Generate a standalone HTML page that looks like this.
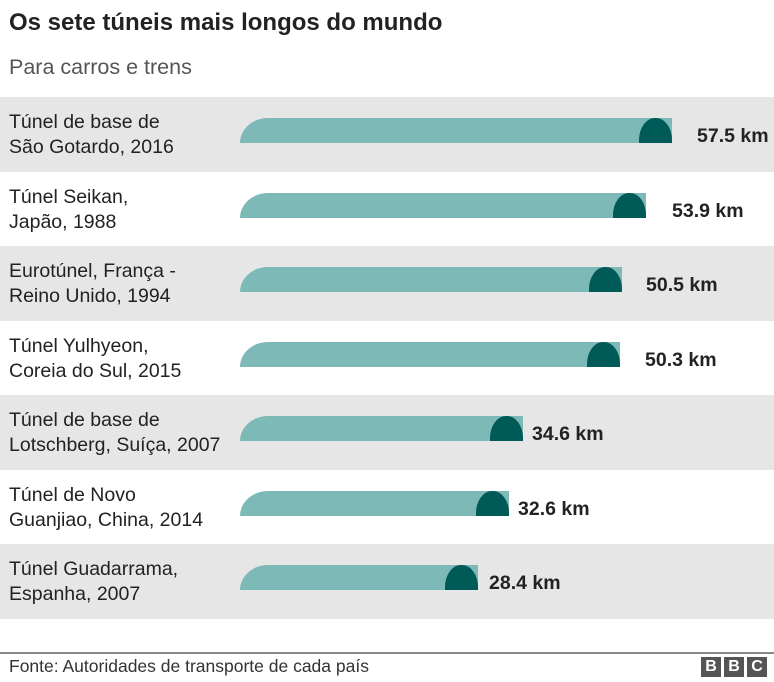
<!DOCTYPE html>
<html><head><meta charset="utf-8"><style>
body{margin:0;width:774px;height:682px;background:#fff;font-family:"Liberation Sans",sans-serif;position:relative;overflow:hidden}
.t{position:absolute;left:9px;top:9px;font-size:24px;font-weight:bold;color:#222}
.s{position:absolute;left:9px;top:55px;font-size:21.5px;color:#555}
.row{position:absolute;left:0;width:774px;height:75px}
.g{background:#e6e6e6}
.lab{position:absolute;left:9px;top:13px;font-size:19.5px;line-height:24.5px;color:#222}
.bar{position:absolute;left:240px;top:21px;height:25px;background:#7db9b6;border-top-left-radius:28px 25px}
.cap{position:absolute;top:21px;width:33px;height:25px;background:#005a57;border-radius:16px 16px 0 0/22px 22px 0 0}
.v{position:absolute;top:28px;font-size:19.5px;font-weight:bold;color:#222}
.foot{position:absolute;left:0;top:652px;width:774px;border-top:2px solid #888}
.f{position:absolute;left:9px;top:656px;font-size:17.5px;color:#333}
.bbc{position:absolute;top:657px;width:20px;height:20px;background:#555;color:#fff;font-weight:bold;font-size:16px;text-align:center;line-height:20px}
</style></head><body>
<div class="t">Os sete túneis mais longos do mundo</div>
<div class="s">Para carros e trens</div>
<div class="row g" style="top:97px"><div class="lab">Túnel de base de<br>São Gotardo, 2016</div><div class="bar" style="width:432px"></div><div class="cap" style="left:639px"></div><div class="v" style="left:697px">57.5 km</div></div>
<div class="row" style="top:172px"><div class="lab">Túnel Seikan,<br>Japão, 1988</div><div class="bar" style="width:406px"></div><div class="cap" style="left:613px"></div><div class="v" style="left:672px">53.9 km</div></div>
<div class="row g" style="top:246px"><div class="lab">Eurotúnel, França -<br>Reino Unido, 1994</div><div class="bar" style="width:382px"></div><div class="cap" style="left:589px"></div><div class="v" style="left:646px">50.5 km</div></div>
<div class="row" style="top:321px"><div class="lab">Túnel Yulhyeon,<br>Coreia do Sul, 2015</div><div class="bar" style="width:380px"></div><div class="cap" style="left:587px"></div><div class="v" style="left:645px">50.3 km</div></div>
<div class="row g" style="top:395px"><div class="lab">Túnel de base de<br>Lotschberg, Suíça, 2007</div><div class="bar" style="width:283px"></div><div class="cap" style="left:490px"></div><div class="v" style="left:532px">34.6 km</div></div>
<div class="row" style="top:470px"><div class="lab">Túnel de Novo<br>Guanjiao, China, 2014</div><div class="bar" style="width:269px"></div><div class="cap" style="left:476px"></div><div class="v" style="left:518px">32.6 km</div></div>
<div class="row g" style="top:544px"><div class="lab">Túnel Guadarrama,<br>Espanha, 2007</div><div class="bar" style="width:238px"></div><div class="cap" style="left:445px"></div><div class="v" style="left:489px">28.4 km</div></div>
<div class="foot"></div>
<div class="f">Fonte: Autoridades de transporte de cada país</div>
<div class="bbc" style="left:701px">B</div><div class="bbc" style="left:724px">B</div><div class="bbc" style="left:747px">C</div>
</body></html>
